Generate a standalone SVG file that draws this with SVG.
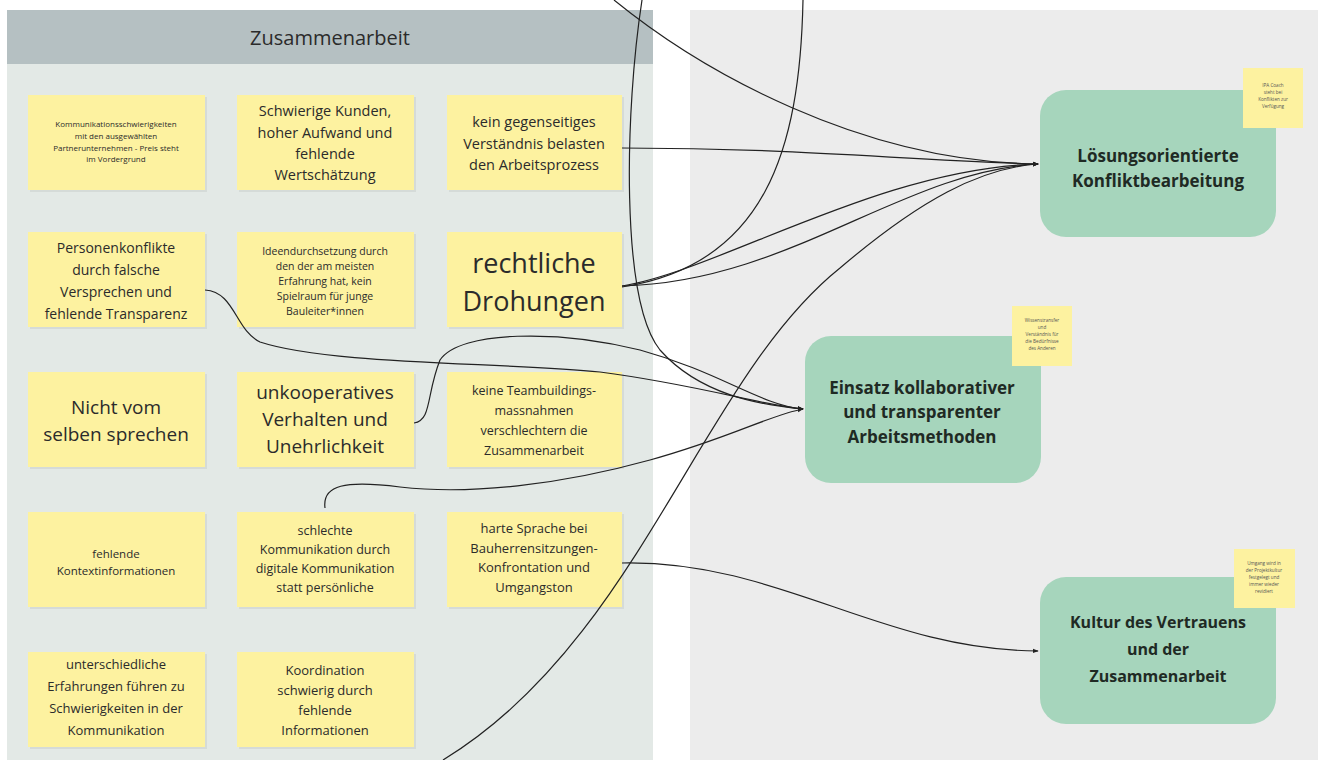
<svg xmlns="http://www.w3.org/2000/svg" width="1330" height="760" viewBox="0 0 1330 760">
<defs>
<style>
.t{font-family:"Open Sans","Noto Sans","Liberation Sans",sans-serif;fill:#2b2b2b;text-anchor:middle;dominant-baseline:central}
.st{fill:#fdf2a0}
.sh{fill:#000;opacity:0.06}
.gn{fill:#a6d5bc}
.gt{font-family:"Open Sans","Noto Sans","Liberation Sans",sans-serif;font-weight:bold;fill:#1f2a24;text-anchor:middle;dominant-baseline:central}
.c{fill:none;stroke:#222;stroke-width:1.2}
.sm{font-family:"Open Sans","Noto Sans","Liberation Sans",sans-serif;fill:#555;text-anchor:middle;dominant-baseline:central;font-size:4.6px}
</style>
<marker id="ar" viewBox="0 0 8 8" refX="7" refY="4" markerWidth="5" markerHeight="5" orient="auto"><path d="M0 1 L8 4 L0 7 z" fill="#222"/></marker>
</defs>
<rect x="0" y="0" width="1330" height="760" fill="#ffffff"/>
<rect x="7" y="10" width="646" height="750" fill="#e3e9e6"/>
<rect x="7" y="10" width="646" height="54" fill="#b5c0c2"/>
<text class="t" x="330" y="37" font-size="20">Zusammenarbeit</text>
<rect x="690" y="10" width="628" height="750" fill="#ececec"/>

<g id="s-r1c1"><rect class="sh" x="30" y="97" width="177" height="95"/><rect class="st" x="28" y="95" width="177" height="95"/>
<text class="t" font-size="8"><tspan x="116" y="123">Kommunikationsschwierigkeiten</tspan><tspan x="116" y="135">mit den ausgewählten</tspan><tspan x="116" y="147">Partnerunternehmen - Preis steht</tspan><tspan x="116" y="158">im Vordergrund</tspan></text></g>
<g id="s-r1c2"><rect class="sh" x="239" y="97" width="177" height="95"/><rect class="st" x="237" y="95" width="177" height="95"/>
<text class="t" font-size="14.5"><tspan x="325" y="110">Schwierige Kunden,</tspan><tspan x="325" y="132">hoher Aufwand und</tspan><tspan x="325" y="153">fehlende</tspan><tspan x="325" y="174">Wertschätzung</tspan></text></g>
<g id="s-r1c3"><rect class="sh" x="449" y="97" width="175" height="95"/><rect class="st" x="447" y="95" width="175" height="95"/>
<text class="t" font-size="14.5"><tspan x="534" y="121">kein gegenseitiges</tspan><tspan x="534" y="143">Verständnis belasten</tspan><tspan x="534" y="164">den Arbeitsprozess</tspan></text></g>

<g id="s-r2c1"><rect class="sh" x="30" y="234" width="177" height="95"/><rect class="st" x="28" y="232" width="177" height="95"/>
<text class="t" font-size="14"><tspan x="116" y="247">Personenkonflikte</tspan><tspan x="116" y="269">durch falsche</tspan><tspan x="116" y="291">Versprechen und</tspan><tspan x="116" y="313">fehlende Transparenz</tspan></text></g>
<g id="s-r2c2"><rect class="sh" x="239" y="234" width="177" height="95"/><rect class="st" x="237" y="232" width="177" height="95"/>
<text class="t" font-size="10.5"><tspan x="325" y="251">Ideendurchsetzung durch</tspan><tspan x="325" y="266">den der am meisten</tspan><tspan x="325" y="281">Erfahrung hat, kein</tspan><tspan x="325" y="296">Spielraum für junge</tspan><tspan x="325" y="311">Bauleiter*innen</tspan></text></g>
<g id="s-r2c3"><rect class="sh" x="449" y="234" width="175" height="95"/><rect class="st" x="447" y="232" width="175" height="95"/>
<text class="t" font-size="27"><tspan x="534" y="262">rechtliche</tspan><tspan x="534" y="300">Drohungen</tspan></text></g>

<g id="s-r3c1"><rect class="sh" x="30" y="374" width="177" height="95"/><rect class="st" x="28" y="372" width="177" height="95"/>
<text class="t" font-size="19"><tspan x="116" y="407">Nicht vom</tspan><tspan x="116" y="434">selben sprechen</tspan></text></g>
<g id="s-r3c2"><rect class="sh" x="239" y="374" width="177" height="95"/><rect class="st" x="237" y="372" width="177" height="95"/>
<text class="t" font-size="19"><tspan x="325" y="392">unkooperatives</tspan><tspan x="325" y="419">Verhalten und</tspan><tspan x="325" y="446">Unehrlichkeit</tspan></text></g>
<g id="s-r3c3"><rect class="sh" x="449" y="374" width="175" height="95"/><rect class="st" x="447" y="372" width="175" height="95"/>
<text class="t" font-size="12.5"><tspan x="534" y="390">keine Teambuildings-</tspan><tspan x="534" y="410">massnahmen</tspan><tspan x="534" y="430">verschlechtern die</tspan><tspan x="534" y="450">Zusammenarbeit</tspan></text></g>

<g id="s-r4c1"><rect class="sh" x="30" y="514" width="177" height="95"/><rect class="st" x="28" y="512" width="177" height="95"/>
<text class="t" font-size="11.5"><tspan x="116" y="553">fehlende</tspan><tspan x="116" y="570">Kontextinformationen</tspan></text></g>
<g id="s-r4c2"><rect class="sh" x="239" y="514" width="177" height="95"/><rect class="st" x="237" y="512" width="177" height="95"/>
<text class="t" font-size="12.5"><tspan x="325" y="530">schlechte</tspan><tspan x="325" y="549">Kommunikation durch</tspan><tspan x="325" y="568">digitale Kommunikation</tspan><tspan x="325" y="587">statt persönliche</tspan></text></g>
<g id="s-r4c3"><rect class="sh" x="449" y="514" width="175" height="95"/><rect class="st" x="447" y="512" width="175" height="95"/>
<text class="t" font-size="13"><tspan x="534" y="528">harte Sprache bei</tspan><tspan x="534" y="548">Bauherrensitzungen-</tspan><tspan x="534" y="567">Konfrontation und</tspan><tspan x="534" y="587">Umgangston</tspan></text></g>

<g id="s-r5c1"><rect class="sh" x="30" y="654" width="177" height="95"/><rect class="st" x="28" y="652" width="177" height="95"/>
<text class="t" font-size="13"><tspan x="116" y="664">unterschiedliche</tspan><tspan x="116" y="686">Erfahrungen führen zu</tspan><tspan x="116" y="708">Schwierigkeiten in der</tspan><tspan x="116" y="730">Kommunikation</tspan></text></g>
<g id="s-r5c2"><rect class="sh" x="239" y="654" width="177" height="95"/><rect class="st" x="237" y="652" width="177" height="95"/>
<text class="t" font-size="13"><tspan x="325" y="670">Koordination</tspan><tspan x="325" y="690">schwierig durch</tspan><tspan x="325" y="710">fehlende</tspan><tspan x="325" y="730">Informationen</tspan></text></g>

<g id="n-loesung"><rect class="gn" x="1040" y="90" width="236" height="147" rx="26"/>
<text class="gt" font-size="17"><tspan x="1158" y="155">Lösungsorientierte</tspan><tspan x="1158" y="180">Konfliktbearbeitung</tspan></text></g>
<g id="note-loesung"><rect class="st" x="1243" y="68" width="60" height="60"/>
<text class="sm"><tspan x="1273" y="85">IPA Coach</tspan><tspan x="1273" y="92">steht bei</tspan><tspan x="1273" y="99">Konflikten zur</tspan><tspan x="1273" y="106">Verfügung</tspan></text></g>

<g id="n-einsatz"><rect class="gn" x="805" y="336" width="236" height="147" rx="26"/>
<text class="gt" font-size="17"><tspan x="922" y="387">Einsatz kollaborativer</tspan><tspan x="922" y="411">und transparenter</tspan><tspan x="922" y="436">Arbeitsmethoden</tspan></text></g>
<g id="note-einsatz"><rect class="st" x="1012" y="306" width="60" height="60"/>
<text class="sm"><tspan x="1042" y="320">Wissenstransfer</tspan><tspan x="1042" y="327">und</tspan><tspan x="1042" y="334">Verständnis für</tspan><tspan x="1042" y="341">die Bedürfnisse</tspan><tspan x="1042" y="348">des Anderen</tspan></text></g>

<g id="n-kultur"><rect class="gn" x="1040" y="577" width="236" height="147" rx="26"/>
<text class="gt" font-size="16"><tspan x="1158" y="622">Kultur des Vertrauens</tspan><tspan x="1158" y="649">und der</tspan><tspan x="1158" y="676">Zusammenarbeit</tspan></text></g>
<g id="note-kultur"><rect class="st" x="1234" y="549" width="61" height="59"/>
<text class="sm"><tspan x="1264" y="563">Umgang wird in</tspan><tspan x="1264" y="570">der Projektkultur</tspan><tspan x="1264" y="577">festgelegt und</tspan><tspan x="1264" y="584">immer wieder</tspan><tspan x="1264" y="591">revidiert</tspan></text></g>

<g id="connectors">
<path class="c" d="M614 0 C700 70 860 162 1038 164" marker-end="url(#ar)"/>
<path class="c" d="M622 148 C800 148 900 160 1038 164" marker-end="url(#ar)"/>
<path class="c" d="M622 286 C720 270 880 168 1038 164" marker-end="url(#ar)"/>
<path class="c" d="M622 286 C790 282 900 172 1038 164" marker-end="url(#ar)"/>
<path class="c" d="M803 0 C800 150 765 265 622 287"/>
<path class="c" d="M443 760 C640 640 700 380 840 268 C920 200 980 168 1038 164" marker-end="url(#ar)"/>
<path class="c" d="M642 0 C625 110 620 300 660 350 C700 395 760 405 803 409" marker-end="url(#ar)"/>
<path class="c" d="M205 290 C235 292 235 330 260 342 C330 365 500 362 600 372 C700 385 760 405 803 409" marker-end="url(#ar)"/>
<path class="c" d="M414 423 C432 420 426 395 440 360 C460 330 560 330 640 350 C720 372 760 405 803 409" marker-end="url(#ar)"/>
<path class="c" d="M325 508 C322 485 345 480 400 487 C470 495 560 485 650 460 C730 438 770 415 803 409" marker-end="url(#ar)"/>
<path class="c" d="M622 563 C780 560 880 650 1038 651" marker-end="url(#ar)"/>
</g>
</svg>
